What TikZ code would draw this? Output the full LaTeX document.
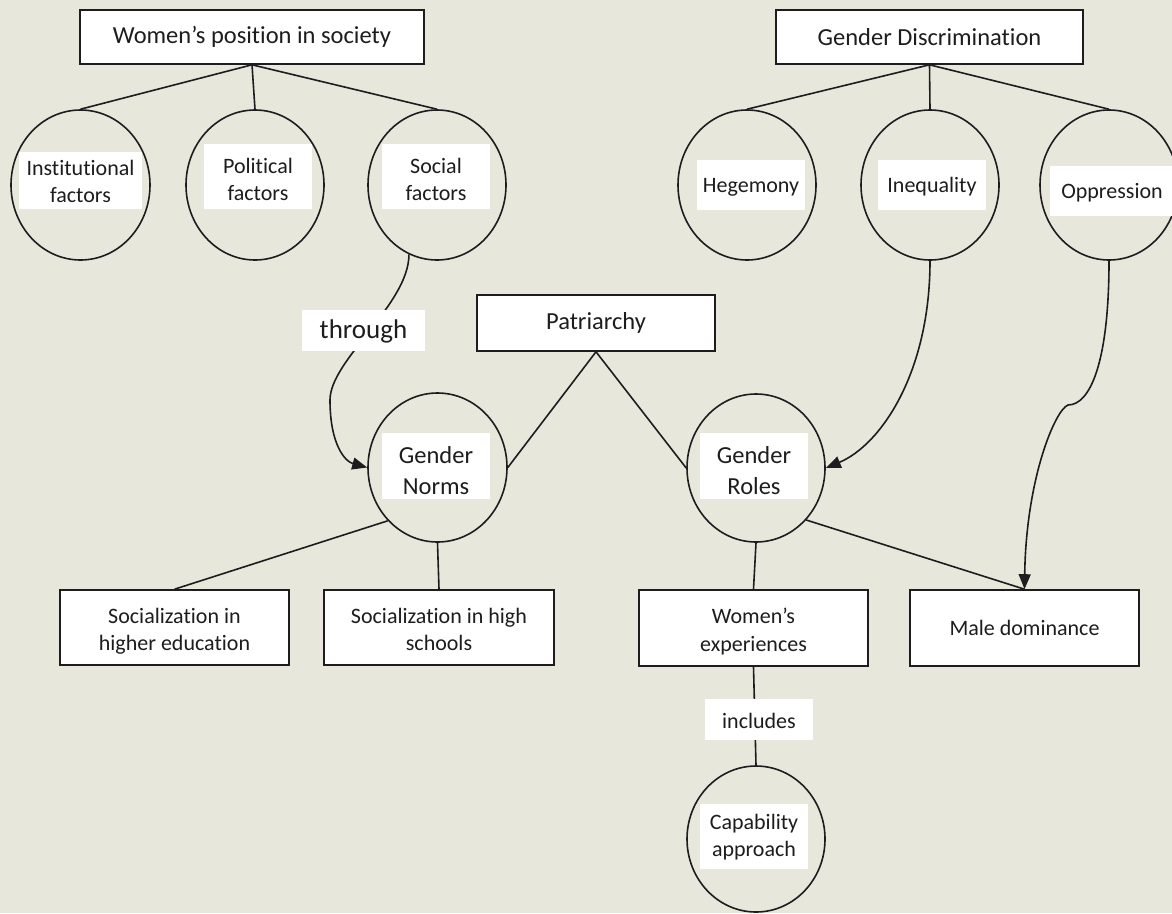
\documentclass[tikz,border=0pt]{standalone}
\usepackage{fontspec}
\setmainfont{Carlito}[Ligatures=NoCommon]
\usetikzlibrary{shapes.geometric,arrows.meta}
\definecolor{bgc}{RGB}{232,231,220}
\definecolor{ink}{RGB}{30,28,30}
\newcommand{\lowr}[2]{\raisebox{-#1}[\height][\depth]{\begin{tabular}{@{}c@{}}#2\end{tabular}}}
\tikzset{
  ln/.style={draw=ink, line width=1.6pt},
  arr/.style={ln, -{Triangle[length=15pt,width=12pt]}},
  box/.style={draw=ink, line width=1.6pt, fill=white, rectangle, inner sep=0pt, align=center, text=ink},
  circ/.style={draw=ink, line width=1.6pt, ellipse, inner sep=0pt, minimum width=138pt, minimum height=150pt},
  lbl/.style={fill=white, inner sep=0pt, align=center, text=ink},
  fA/.style={font=\fontsize{22}{27.5}\selectfont},
  fB/.style={font=\fontsize{24.5}{31}\selectfont},
  fC/.style={font=\fontsize{27}{33}\selectfont},
}
\begin{document}
\begin{tikzpicture}[x=1pt,y=1pt]
\useasboundingbox (0,0) rectangle (1172,-913);
\clip (0,0) rectangle (1172,-913);
\fill[bgc] (0,0) rectangle (1172,-913);

% boxes
\node[box,fB,minimum width=344pt,minimum height=54pt] (wps) at (252,-37) {Women’s position in society};
\node[box,fB,minimum width=307pt,minimum height=54pt] (gd) at (929.5,-37) {Gender Discrimination};
\node[box,fB,minimum width=238pt,minimum height=56pt] (pat) at (596,-323) {Patriarchy};
\node[box,fA,minimum width=229pt,minimum height=75pt] (she) at (174.5,-627.5) {\lowr{4pt}{Socialization in\\higher education}};
\node[box,fA,minimum width=230pt,minimum height=75pt] (shs) at (439,-627.5) {\lowr{4pt}{Socialization in high\\schools}};
\node[box,fA,minimum width=229pt,minimum height=76pt] (wex) at (753.5,-628) {\lowr{4pt}{Women’s\\experiences}};
\node[box,fA,minimum width=229pt,minimum height=76pt] (mdom) at (1024.5,-628) {Male dominance};

% ellipses
\node[circ,minimum width=139pt] (inst) at (80.5,-185) {};
\node[circ] (pol) at (255,-185) {};
\node[circ] (soc) at (437,-185) {};
\node[circ] (heg) at (747,-185) {};
\node[circ] (ineq) at (930,-185) {};
\node[circ] (opp) at (1109,-185) {};
\node[circ,minimum width=139pt,minimum height=149pt] (norms) at (437.5,-467.5) {};
\node[circ,minimum height=148pt] (roles) at (756,-468) {};
\node[circ,minimum height=146pt] (cap) at (756,-839) {};

% connectors
\draw[ln] (wps.south) -- (inst.north);
\draw[ln] (wps.south) -- (pol.north);
\draw[ln] (wps.south) -- (soc.north);
\draw[ln] (gd.south) -- (heg.north);
\draw[ln] (gd.south) -- (ineq.north);
\draw[ln] (gd.south) -- (opp.north);
\draw[ln] (pat.south) -- (norms.east);
\draw[ln] (pat.south) -- (roles.west);
\draw[ln] (norms.227) -- (she.north);
\draw[ln] (norms.south) -- (shs.north);
\draw[ln] (roles.south) -- (wex.north);
\draw[ln] (roles.-46) -- (mdom.north);
\draw[ln] (wex.south) -- (cap.north);

\coordinate (c1) at (330,-400);
\draw[arr] (soc.248) .. controls +(0,-50) and +(0,40) .. (c1) .. controls +(0,-45) and +(-22,6) .. (norms.west);
\draw[arr] (ineq.south) .. controls +(0,-112) and +(55,23) .. (roles.east);
\coordinate (k1) at (1068,-405);
\draw[arr] (opp.south) .. controls +(0,-102) and +(22,0) .. (k1) .. controls +(-13,-5) and +(1.5,110) .. (mdom.north);

% labels
\node[lbl,fA,minimum width=123pt,minimum height=57pt] (instL) at (80.5,-180.5) {\lowr{3pt}{Institutional\\factors}};
\node[lbl,fA,minimum width=108pt,minimum height=65pt] (polL) at (258,-176.5) {\lowr{5pt}{Political\\factors}};
\node[lbl,fA,minimum width=108pt,minimum height=65pt] (socL) at (436,-176.5) {\lowr{5pt}{Social\\factors}};
\node[lbl,fA,minimum width=108pt,minimum height=50pt] (hegL) at (751,-185) {\lowr{2pt}{Hegemony}};
\node[lbl,fA,minimum width=108pt,minimum height=50pt] (ineqL) at (932,-185) {\lowr{2pt}{Inequality}};
\node[lbl,fA,minimum width=124pt,minimum height=50pt] (oppL) at (1112,-191) {\lowr{2pt}{Oppression}};
\node[lbl,fB,minimum width=108pt,minimum height=66pt] (normsL) at (436,-466) {\lowr{7pt}{Gender\\Norms}};
\node[lbl,fB,minimum width=108pt,minimum height=66pt] (rolesL) at (754,-466) {\lowr{7pt}{Gender\\Roles}};
\node[lbl,fA,minimum width=108pt,minimum height=65pt] (capL) at (754,-836.5) {\lowr{1pt}{Capability\\approach}};
\node[lbl,fC,minimum width=123pt,minimum height=41pt] (thr) at (363.5,-330.5) {\lowr{1pt}{through}};
\node[lbl,fA,minimum width=108pt,minimum height=41pt] (inc) at (759,-719.5) {\lowr{3pt}{includes}};
\end{tikzpicture}
\end{document}
